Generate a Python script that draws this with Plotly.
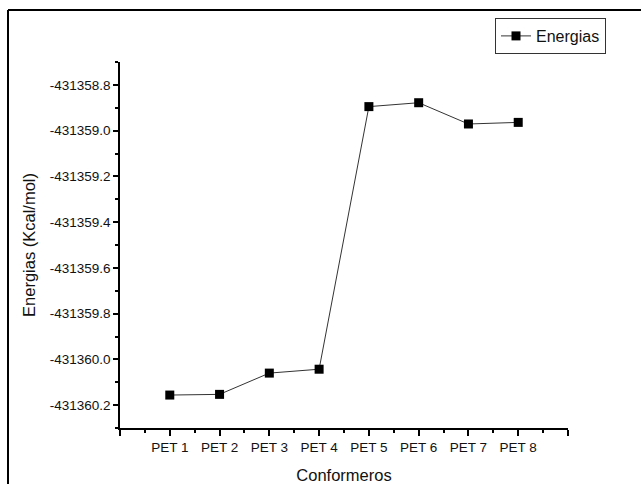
import plotly.graph_objects as go

# Data
categories = ["PET 1", "PET 2", "PET 3", "PET 4", "PET 5", "PET 6", "PET 7", "PET 8"]
positions = [1, 2, 3, 4, 5, 6, 7, 8]
energias = [-431360.156, -431360.153, -431360.060, -431360.043,
            -431358.895, -431358.878, -431358.971, -431358.964]

y_tick_vals = [-431360.2, -431360.0, -431359.8, -431359.6, -431359.4,
               -431359.2, -431359.0, -431358.8]
y_tick_text = ["-431360.2", "-431360.0", "-431359.8", "-431359.6", "-431359.4",
               "-431359.2", "-431359.0", "-431358.8"]

x_tick_vals = [0] + positions + [9]
x_tick_text = [""] + categories + [""]

FONT = "Liberation Sans, Arial, sans-serif"

fig = go.Figure()
fig.add_trace(go.Scatter(
    x=positions, y=energias, mode="lines+markers", name="Energias",
    line=dict(color="#333333", width=1),
    marker=dict(symbol="square", size=9, color="black"),
))

W, H = 641, 484
L, R, T, B = 120, 73, 62, 56
pw, ph = W - L - R, H - T - B

def px(x):
    return (x - L) / pw

def py(y):
    return (H - B - y) / ph

# outer frame (left and top edges visible)
fig.add_shape(type="line", xref="paper", yref="paper",
              x0=px(8), x1=px(8), y0=py(10), y1=py(495),
              line=dict(color="black", width=2))
fig.add_shape(type="line", xref="paper", yref="paper",
              x0=px(8), x1=px(650), y0=py(10), y1=py(10),
              line=dict(color="black", width=2))

fig.update_layout(
    width=W, height=H,
    margin=dict(l=L, r=R, t=T, b=B, autoexpand=False),
    paper_bgcolor="white", plot_bgcolor="white",
    font=dict(family=FONT, color="#111111"),
    showlegend=True,
    legend=dict(x=px(606), xanchor="right", y=py(36), yanchor="middle",
                bordercolor="#333333", borderwidth=1, bgcolor="white",
                font=dict(size=16, family=FONT), itemwidth=30,
                tracegroupgap=0),
    xaxis=dict(
        automargin=False,
        range=[0, 9], tickmode="array", tickvals=x_tick_vals, ticktext=x_tick_text,
        showgrid=False, zeroline=False, showline=True, linecolor="black", linewidth=1.5,
        ticks="outside", ticklen=6, tickwidth=1.5, tickcolor="black",
        tickfont=dict(size=13.5, family=FONT),
        minor=dict(dtick=0.5, tick0=0, ticks="outside", ticklen=3, tickwidth=1.5,
                   tickcolor="black", showgrid=False),
        title=dict(text="Conformeros", font=dict(size=16.5, family=FONT), standoff=15),
    ),
    yaxis=dict(
        automargin=False,
        range=[-431360.3, -431358.7], tickmode="array", tickvals=y_tick_vals,
        ticktext=y_tick_text,
        showgrid=False, zeroline=False, showline=True, linecolor="black", linewidth=1.5,
        ticks="outside", ticklen=5, tickwidth=1.5, tickcolor="black",
        tickfont=dict(size=13.5, family=FONT),
        minor=dict(dtick=0.1, tick0=-431360.3, ticks="outside", ticklen=3, tickwidth=1.5,
                   tickcolor="black", showgrid=False),
        title=dict(text="Energias (Kcal/mol)", font=dict(size=16.5, family=FONT), standoff=10),
    ),
)

fig.write_html("out.html")
